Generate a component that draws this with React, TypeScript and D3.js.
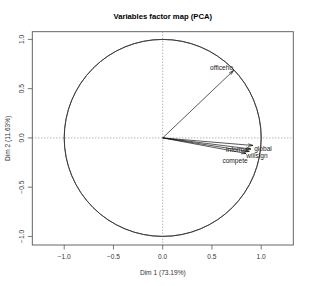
import React from 'react';
import * as d3 from 'd3';

// PCA variable coordinates (Dim 1, Dim 2)
const variables = ['officeho', 'global', 'informat', 'willsign', 'compete'];
const dim1 = [0.72, 0.917, 0.896, 0.876, 0.846];
const dim2 = [0.685, -0.077, -0.113, -0.138, -0.158];
const xTicks = [-1, -0.5, 0, 0.5, 1];
const yTicks = [-1, -0.5, 0, 0.5, 1];
const title = 'Variables factor map (PCA)';
const xTitle = 'Dim 1 (73.19%)';
const yTitle = 'Dim 2 (11.63%)';

// label nudges in px (autoLab style placement)
const labelShift: Record<string, [number, number]> = {
  officeho: [-12, -3],
  global: [10, 3],
  informat: [-13, 1],
  willsign: [8, 4],
  compete: [-11, 7],
};

const W = 310, H = 286;
const box = {left: 32.3, right: 293.3, top: 31.7, bottom: 245};
const font = 'Liberation Sans, Arial, sans-serif';

const fmt = (v: number) => (v < 0 ? '\u2212' : '') + Math.abs(v).toFixed(1);

export default function App() {
  const x = d3.scaleLinear().domain([-1.324, 1.326]).range([box.left, box.right]);
  const y = d3.scaleLinear().domain([-1.087, 1.078]).range([box.bottom, box.top]);
  const r = x(1) - x(0);

  const circle = d3.arc()({innerRadius: r, outerRadius: r, startAngle: 0, endAngle: 2 * Math.PI}) as string;

  const head = 5, ang = (15 * Math.PI) / 180;

  return (
    <svg width={W} height={H} style={{position: 'absolute', left: 0, top: 0, background: '#fff'}} fontFamily={font}>
      <text x={(box.left + box.right) / 2} y={18.5} textAnchor="middle" fontSize={7.7} fontWeight="bold" fill="#000">
        {title}
      </text>

      {/* dotted axes through origin */}
      <line x1={box.left} x2={box.right} y1={y(0)} y2={y(0)} stroke="#777" strokeWidth={0.8} strokeDasharray="1,2" />
      <line x1={x(0)} x2={x(0)} y1={box.top} y2={box.bottom} stroke="#777" strokeWidth={0.8} strokeDasharray="1,2" />

      <path d={circle} transform={`translate(${x(0)},${y(0)})`} fill="none" stroke="#333" strokeWidth={0.8} />

      {variables.map((v, i) => {
        const x0 = x(0), y0 = y(0), x1 = x(dim1[i]), y1 = y(dim2[i]);
        const a = Math.atan2(y1 - y0, x1 - x0);
        const h1 = [x1 - head * Math.cos(a - ang), y1 - head * Math.sin(a - ang)];
        const h2 = [x1 - head * Math.cos(a + ang), y1 - head * Math.sin(a + ang)];
        const [dx, dy] = labelShift[v];
        return (
          <g key={v}>
            <line x1={x0} y1={y0} x2={x1} y2={y1} stroke="#111" strokeWidth={0.7} />
            <polyline points={`${h1[0]},${h1[1]} ${x1},${y1} ${h2[0]},${h2[1]}`} fill="none" stroke="#111" strokeWidth={0.7} />
            <text x={x1 + dx} y={y1 + dy} dy="0.35em" textAnchor="middle" fontSize={6.6} fill="#222">
              {v}
            </text>
          </g>
        );
      })}

      <rect x={box.left} y={box.top} width={box.right - box.left} height={box.bottom - box.top} fill="none" stroke="#555" strokeWidth={0.9} />

      {/* x axis */}
      {xTicks.map(t => (
        <g key={'x' + t}>
          <line x1={x(t)} x2={x(t)} y1={box.bottom} y2={box.bottom + 4.5} stroke="#555" strokeWidth={0.8} />
          <text x={x(t)} y={259} textAnchor="middle" fontSize={6.6} fill="#333">{fmt(t)}</text>
        </g>
      ))}
      <text x={(box.left + box.right) / 2} y={275} textAnchor="middle" fontSize={6.6} fill="#333">{xTitle}</text>

      {/* y axis */}
      {yTicks.map(t => (
        <g key={'y' + t}>
          <line x1={box.left - 4.5} x2={box.left} y1={y(t)} y2={y(t)} stroke="#555" strokeWidth={0.8} />
          <text transform={`translate(24,${y(t)}) rotate(-90)`} textAnchor="middle" fontSize={6.6} fill="#333">{fmt(t)}</text>
        </g>
      ))}
      <text transform={`translate(10,${(box.top + box.bottom) / 2}) rotate(-90)`} textAnchor="middle" fontSize={6.6} fill="#333">
        {yTitle}
      </text>
    </svg>
  );
}
